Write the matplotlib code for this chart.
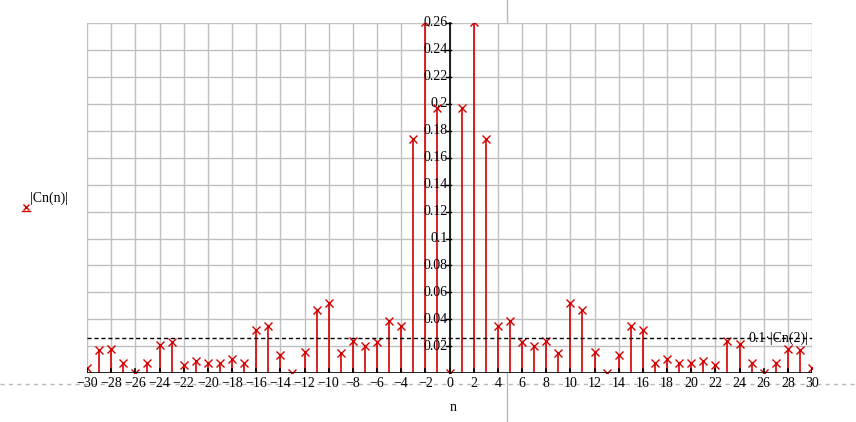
import matplotlib
matplotlib.use("Agg")
import matplotlib.pyplot as plt
from matplotlib.lines import Line2D

# Spectre |Cn(n)|
n_vals = list(range(-30, 31))
cn_abs = [0.004, 0.017, 0.018, 0.008, 0.0005, 0.008, 0.021, 0.023, 0.006, 0.0095,
          0.0076, 0.0076, 0.0105, 0.008, 0.032, 0.035, 0.014, 0.0003, 0.016, 0.047,
          0.052, 0.015, 0.024, 0.020, 0.023, 0.039, 0.035, 0.174, 0.2605, 0.197,
          0.0,
          0.197, 0.2605, 0.174, 0.035, 0.039, 0.023, 0.020, 0.024, 0.015, 0.052,
          0.047, 0.016, 0.0003, 0.014, 0.035, 0.032, 0.008, 0.0105, 0.0076, 0.0076,
          0.0095, 0.006, 0.024, 0.022, 0.008, 0.0005, 0.008, 0.018, 0.0175, 0.004]
x_ticks = list(range(-30, 31, 2))
y_ticks = [0.02, 0.04, 0.06, 0.08, 0.1, 0.12, 0.14, 0.16, 0.18, 0.2, 0.22, 0.24, 0.26]
ref_index = 2  # seuil = 0.1*|Cn(2)|

RED = "#d40000"
GRID = "#c0c0c0"
plt.rcParams["font.family"] = ["Liberation Serif", "DejaVu Serif"]

fig = plt.figure(figsize=(8.56, 4.22), dpi=100)
ax = fig.add_axes([87 / 856, 48.6 / 422, 725 / 856, 350.7 / 422])
ax.set_xlim(-30, 30)
ax.set_ylim(0, 0.26)
for s in ax.spines.values():
    s.set_visible(False)
ax.set_xticks([])
ax.set_yticks([])

# grille
for xv in x_ticks:
    ax.axvline(xv, color=GRID, lw=1, zorder=0)
for yv in y_ticks:
    ax.axhline(yv, color=GRID, lw=1, zorder=0)

# axes noirs
ax.axhline(0, color="black", lw=1.2, zorder=3)
ax.plot([0, 0], [0, 0.26], color="black", lw=1.2, zorder=3, clip_on=False)
for xv in x_ticks:
    ax.plot([xv, xv], [0, 0.003], color="black", lw=1.2, zorder=3)
for yv in y_ticks:
    ax.plot([-0.3, 0.15], [yv, yv], color="black", lw=1, zorder=3, clip_on=False)
    ax.text(-0.15, yv, f"{yv:g}", ha="right", va="center", fontsize=10, zorder=4)

# stems
ax.vlines(n_vals, 0, cn_abs, color=RED, lw=1.2, zorder=2)
ax.plot(n_vals, cn_abs, "x", color=RED, ms=5.5, mew=1, zorder=2)

# seuil
seuil = 0.1 * cn_abs[n_vals.index(ref_index)]
ax.axhline(seuil, color="black", lw=1, ls=(0, (3, 2)), zorder=3)
ax.text(29.7, seuil, "0.1·|Cn(2)|", ha="right", va="center", fontsize=10, zorder=4)

# labels x
for xv in x_ticks:
    lab = f"{xv}".replace("-", "−")
    ax.text(xv, -0.0075, lab, ha="center", va="center", fontsize=10, zorder=4)
ax.text(0.3, -0.025, "n", ha="center", va="center", fontsize=10)

# legende à gauche
fig.text(30 / 856, 1 - 198 / 422, "|Cn(n)|", ha="left", va="center", fontsize=10)
fig.add_artist(Line2D([26 / 856], [1 - 207 / 422], marker="x", color=RED, ms=5, mew=1,
                      transform=fig.transFigure))
fig.add_artist(Line2D([22 / 856, 30 / 856], [1 - 211 / 422, 1 - 211 / 422], color=RED,
                      lw=1, transform=fig.transFigure))

# curseur (réticule)
fig.add_artist(Line2D([507 / 856, 507 / 856], [0, 1], color="#b8b8b8", lw=1,
                      transform=fig.transFigure, zorder=0))
fig.add_artist(Line2D([0, 1], [1 - 384 / 422, 1 - 384 / 422], color="#b8b8b8", lw=1,
                      ls=(0, (3, 3)), transform=fig.transFigure, zorder=0))

fig.savefig("out.png", dpi=100)
plt.close(fig)
